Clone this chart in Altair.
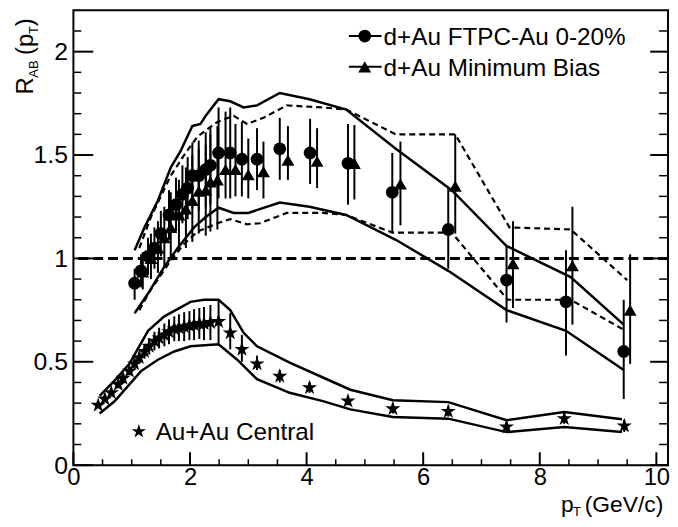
import altair as alt
import pandas as pd

FONT = "Liberation Sans"
W, H = 600, 459

# ---------------- data ----------------
# d+Au FTPC-Au 0-20% (circles)
ftpc_pt = [1.05, 1.16, 1.28, 1.39, 1.50, 1.64, 1.76, 1.87, 1.96, 2.04, 2.15, 2.27, 2.35, 2.49,
           2.69, 2.89, 3.15, 3.54, 4.06, 4.71, 5.47, 6.43, 7.43, 8.45, 9.44]
ftpc_r = [0.88, 0.94, 1.01, 1.05, 1.12, 1.21, 1.26, 1.31, 1.34, 1.40, 1.40, 1.43, 1.45, 1.51,
          1.51, 1.48, 1.48, 1.53, 1.51, 1.46, 1.32, 1.14, 0.895, 0.79, 0.55]
ftpc_lo = [0.80, 0.86, 0.92, 0.95, 1.01, 1.09, 1.13, 1.17, 1.19, 1.24, 1.23, 1.25, 1.26, 1.29,
           1.29, 1.30, 1.33, 1.38, 1.36, 1.26, 1.125, 0.95, 0.69, 0.53, 0.32]
ftpc_hi = [0.95, 1.02, 1.10, 1.15, 1.23, 1.33, 1.39, 1.45, 1.49, 1.56, 1.57, 1.61, 1.64, 1.73,
           1.73, 1.66, 1.63, 1.68, 1.675, 1.65, 1.51, 1.34, 1.06, 1.04, 0.80]

# d+Au Minimum Bias (triangles)
mb_pt = [1.19, 1.33, 1.45, 1.56, 1.67, 1.81, 1.93, 2.04, 2.15, 2.27, 2.35, 2.47, 2.61, 2.78,
         3.00, 3.26, 3.68, 4.18, 4.82, 5.61, 6.55, 7.54, 8.56, 9.55]
mb_r = [0.935, 1.00, 1.05, 1.10, 1.15, 1.21, 1.24, 1.28, 1.325, 1.33, 1.37, 1.38, 1.43, 1.43,
        1.405, 1.42, 1.475, 1.47, 1.46, 1.36, 1.35, 0.975, 0.965, 0.75]
mb_lo = [0.85, 0.90, 0.93, 0.96, 1.00, 1.04, 1.05, 1.08, 1.12, 1.11, 1.13, 1.14, 1.29, 1.30,
         1.29, 1.29, 1.38, 1.34, 1.285, 1.16, 1.12, 0.76, 0.68, 0.49]
mb_hi = [1.03, 1.12, 1.18, 1.25, 1.32, 1.38, 1.44, 1.50, 1.53, 1.55, 1.60, 1.64, 1.71, 1.65,
         1.58, 1.565, 1.64, 1.63, 1.645, 1.565, 1.60, 1.18, 1.25, 1.02]

# Au+Au Central (stars)
aa_pt = [0.425, 0.54, 0.65, 0.77, 0.85, 0.96, 1.05, 1.13, 1.22, 1.30, 1.39, 1.47, 1.56, 1.64,
         1.73, 1.81, 1.90, 1.99, 2.07, 2.16, 2.24, 2.35, 2.49, 2.69, 2.89, 3.15, 3.54, 4.05,
         4.71, 5.48, 6.43, 7.43, 8.42, 9.45]
aa_r = [0.29, 0.32, 0.35, 0.39, 0.42, 0.455, 0.49, 0.52, 0.55, 0.575, 0.60, 0.615, 0.63, 0.645,
        0.66, 0.665, 0.67, 0.675, 0.68, 0.685, 0.685, 0.69, 0.695, 0.64, 0.56, 0.49, 0.43, 0.375,
        0.31, 0.273, 0.26, 0.185, 0.225, 0.19]
aa_lo = [0.28, 0.308, 0.335, 0.372, 0.40, 0.435, 0.465, 0.49, 0.515, 0.535, 0.555, 0.565, 0.575, 0.585,
         0.60, 0.60, 0.60, 0.605, 0.605, 0.61, 0.605, 0.605, 0.58, 0.56, 0.50, 0.46, 0.40, 0.35,
         0.29, 0.25, 0.235, 0.16, 0.20, 0.16]
aa_hi = [0.30, 0.332, 0.365, 0.408, 0.44, 0.475, 0.515, 0.55, 0.585, 0.615, 0.645, 0.665, 0.685, 0.705,
         0.72, 0.73, 0.74, 0.745, 0.755, 0.76, 0.765, 0.775, 0.80, 0.735, 0.63, 0.53, 0.46, 0.40,
         0.335, 0.30, 0.285, 0.21, 0.255, 0.22]

# systematic band edges
ftpc_up_x = [1.05, 1.22, 1.45, 1.67, 1.84, 2.04, 2.18, 2.27, 2.49, 2.69, 2.92, 3.15, 3.54, 4.05,
             4.68, 5.53, 6.49, 7.43, 8.53, 9.44]
ftpc_up_y = [1.04, 1.15, 1.28, 1.44, 1.52, 1.64, 1.65, 1.69, 1.77, 1.76, 1.73, 1.74, 1.80, 1.77,
             1.72, 1.53, 1.33, 1.06, 0.91, 0.68]
ftpc_dn_x = [1.05, 1.28, 1.56, 1.79, 2.07, 2.27, 2.49, 2.75, 3.00, 3.54, 4.05, 4.68, 5.53, 6.43,
             7.43, 8.45, 9.44]
ftpc_dn_y = [0.735, 0.83, 0.96, 1.05, 1.15, 1.20, 1.245, 1.22, 1.22, 1.27, 1.25, 1.21, 1.09, 0.94,
             0.75, 0.65, 0.46]

mb_up_x = [1.13, 1.33, 1.67, 1.90, 2.13, 2.47, 2.75, 2.98, 3.26, 3.66, 4.28, 4.68, 5.53, 6.55,
           7.48, 8.53, 9.50]
mb_up_y = [1.05, 1.20, 1.40, 1.50, 1.59, 1.66, 1.69, 1.65, 1.68, 1.74, 1.73, 1.72, 1.60, 1.60,
           1.15, 1.14, 0.895]
mb_dn_x = [1.13, 1.33, 1.67, 1.90, 2.13, 2.47, 2.69, 2.98, 3.20, 3.66, 4.28, 4.68, 5.47, 6.49,
           7.45, 8.53, 9.44]
mb_dn_y = [0.75, 0.85, 0.99, 1.07, 1.13, 1.17, 1.19, 1.165, 1.17, 1.22, 1.22, 1.21, 1.125, 1.125,
           0.80, 0.80, 0.655]

aa_up_x = [0.45, 0.71, 0.96, 1.28, 1.56, 2.01, 2.24, 2.49, 2.69, 2.92, 3.15, 3.71, 4.28, 4.75,
           5.48, 6.43, 7.43, 8.42, 9.41]
aa_up_y = [0.335, 0.41, 0.49, 0.65, 0.72, 0.79, 0.80, 0.80, 0.75, 0.64, 0.575, 0.496, 0.424, 0.365,
           0.314, 0.305, 0.217, 0.257, 0.222]
aa_dn_x = [0.45, 0.71, 1.16, 1.45, 1.73, 2.01, 2.49, 2.81, 3.15, 3.71, 4.28, 4.75, 5.48, 6.43,
           7.43, 8.42, 9.41]
aa_dn_y = [0.25, 0.31, 0.455, 0.51, 0.55, 0.575, 0.585, 0.51, 0.416, 0.35, 0.31, 0.27, 0.233, 0.225,
           0.16, 0.185, 0.16]

ref_level = [1.0]

x_major = [0, 2, 4, 6, 8, 10]
x_minor = [0.5, 1, 1.5, 2.5, 3, 3.5, 4.5, 5, 5.5, 6.5, 7, 7.5, 8.5, 9, 9.5]
y_major = [0, 0.5, 1, 1.5, 2]
y_minor = [0.1, 0.2, 0.3, 0.4, 0.6, 0.7, 0.8, 0.9, 1.1, 1.2, 1.3, 1.4, 1.6, 1.7, 1.8, 1.9, 2.1]

# ---------------- helpers ----------------
xs = alt.Scale(domain=[0, 10.2], nice=False, zero=False)
ys = alt.Scale(domain=[0, 2.2], nice=False, zero=False)
xax = alt.Axis(values=x_major, ticks=False, domain=False, grid=False, title=None,
               labelFontSize=24, labelFont=FONT, labelColor="black", labelPadding=1,
               labelFlush=False, labelAngle=0)
yax = alt.Axis(values=y_major, format="~g", ticks=False, domain=False, grid=False, title=None,
               labelFontSize=25, labelFont=FONT, labelColor="black", labelPadding=6,
               labelFlush=False)


def X(f):
    return alt.X(f, type="quantitative", scale=xs, axis=xax)


def Y(f):
    return alt.Y(f, type="quantitative", scale=ys, axis=yax)


def line_df(pairs):
    rows = []
    for name, xv, yv in pairs:
        for i, (a, b) in enumerate(zip(xv, yv)):
            rows.append({"x": a, "y": b, "line": name, "i": i})
    return pd.DataFrame(rows)


one = pd.DataFrame({"a": [0]})

solid = alt.Chart(line_df([("fu", ftpc_up_x, ftpc_up_y), ("fd", ftpc_dn_x, ftpc_dn_y),
                           ("au", aa_up_x, aa_up_y), ("ad", aa_dn_x, aa_dn_y)])).mark_line(
    color="black", strokeWidth=2.5).encode(x=X("x"), y=Y("y"), detail="line:N", order="i:Q")

dashed = alt.Chart(line_df([("mu", mb_up_x, mb_up_y), ("md", mb_dn_x, mb_dn_y)])).mark_line(
    color="black", strokeWidth=2.2, strokeDash=[6, 4]).encode(
    x=X("x"), y=Y("y"), detail="line:N", order="i:Q")

ref = alt.Chart(pd.DataFrame({"v": ref_level})).mark_rule(
    color="black", strokeWidth=3, strokeDash=[10, 5]).encode(y=Y("v"))

ftpc_df = pd.DataFrame({"x": ftpc_pt, "y": ftpc_r, "lo": ftpc_lo, "hi": ftpc_hi})
mb_df = pd.DataFrame({"x": mb_pt, "y": mb_r, "lo": mb_lo, "hi": mb_hi})
aa_df = pd.DataFrame({"x": aa_pt, "y": aa_r, "lo": aa_lo, "hi": aa_hi})

STAR = ("M0,-1L0.2245,-0.309L0.951,-0.309L0.363,0.118L0.588,0.809L0,0.382"
        "L-0.588,0.809L-0.363,0.118L-0.951,-0.309L-0.2245,-0.309Z")


def errs(df, w=2):
    return alt.Chart(df).mark_rule(color="black", strokeWidth=w).encode(
        x=X("x"), y=Y("lo"), y2="hi")


def pts(df, shape, size):
    return alt.Chart(df).mark_point(filled=True, shape=shape, size=size, color="black",
                                    opacity=1).encode(x=X("x"), y=Y("y"))


# ticks (inward)
def xt(vals, ln, w):
    return alt.Chart(pd.DataFrame({"t": vals})).mark_rule(color="black", strokeWidth=w).encode(
        x=X("t"), y=alt.value(H), y2=alt.value(H - ln))


def ylt(vals, ln, w):
    return alt.Chart(pd.DataFrame({"t": vals})).mark_rule(color="black", strokeWidth=w).encode(
        y=Y("t"), x=alt.value(0), x2=alt.value(ln))


def yrt(vals, ln, w):
    return alt.Chart(pd.DataFrame({"t": vals})).mark_rule(color="black", strokeWidth=w).encode(
        y=Y("t"), x=alt.value(W), x2=alt.value(W - ln))


def txt(s, x, y, size=24, angle=0, align="left"):
    return alt.Chart(one).mark_text(text=s, font=FONT, fontSize=size, color="black",
                                    align=align, baseline="alphabetic", angle=angle).encode(
        x=alt.value(x), y=alt.value(y))


def sym(shape, x, y, size):
    return alt.Chart(one).mark_point(filled=True, shape=shape, size=size, color="black",
                                     opacity=1).encode(x=alt.value(x), y=alt.value(y))


def hline(x1, x2, y):
    return alt.Chart(one).mark_rule(color="black", strokeWidth=2).encode(
        x=alt.value(x1), x2=alt.value(x2), y=alt.value(y))


layers = [
    solid, dashed, ref,
    errs(aa_df), errs(mb_df), errs(ftpc_df),
    pts(aa_df, STAR, 260), pts(mb_df, "triangle-up", 170), pts(ftpc_df, "circle", 165),
    xt(x_major, 13, 2), xt(x_minor, 6, 1.5),
    ylt(y_major, 20, 2), ylt(y_minor, 8, 1.5),
    yrt(y_major, 18, 2), yrt(y_minor, 9, 1.5),
    # legend
    hline(278, 311, 26), sym("circle", 294, 26, 165),
    txt("d+Au FTPC-Au 0-20%", 313, 35, size=24.5),
    hline(278, 311, 57), sym("triangle-up", 294, 57, 170),
    txt("d+Au Minimum Bias", 313, 66, size=24.5),
    sym(STAR, 66, 425, 230), txt("Au+Au Central", 83, 434, size=24.5),
    # x title
    txt("p", 492, 506, size=23), txt("T", 504, 510, size=13), txt("(GeV/c)", 516, 506, size=23),
    # y title (rotated)
    txt("R", -41, 85, angle=270), txt("AB", -36, 68, size=13, angle=270),
    txt("(p", -41, 45, angle=270), txt("T", -36, 24, size=13, angle=270),
    txt(")", -41, 16, angle=270),
]

chart = alt.layer(*layers).properties(
    width=W, height=H, autosize="none",
    padding={"left": 66, "top": 0, "right": 2, "bottom": 52},
).configure_view(stroke="black", strokeWidth=2)

chart.save("out.html", embed_options={"renderer": "svg", "actions": False})
